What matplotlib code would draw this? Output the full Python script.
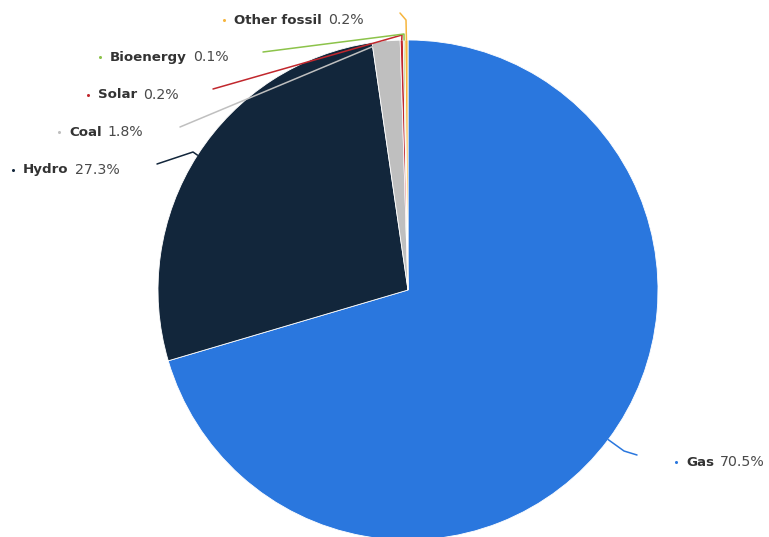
import matplotlib.pyplot as plt
import numpy as np

# share of electricity generation by source (%)
sources = ["Gas", "Hydro", "Coal", "Solar", "Bioenergy", "Other fossil"]
shares = [70.5, 27.3, 1.8, 0.2, 0.1, 0.2]
colors = ["#2a77de", "#12263b", "#bfbfbf", "#c1272d", "#8cc34a", "#f6b53d"]

W, H = 769, 537
cx, cy, r = 408, H - 290, 250

fig = plt.figure(figsize=(W / 100, H / 100), dpi=100)
ax = fig.add_axes([0, 0, 1, 1])

wedges, _ = ax.pie(shares, colors=colors, startangle=90, counterclock=False,
                   center=(cx, cy), radius=r,
                   wedgeprops=dict(linewidth=0.6, edgecolor="white"))
ax.set_xlim(0, W)
ax.set_ylim(0, H)
ax.set_aspect("equal")
ax.axis("off")


def edge_point(w, rad=r):
    ang = np.deg2rad((w.theta1 + w.theta2) / 2)
    return cx + rad * np.cos(ang), cy + rad * np.sin(ang)


# label anchor (bullet position) and the elbow of each connector, in pixels from the top
label_pos = {
    "Gas": (676, 462),
    "Hydro": (13, 170),
    "Coal": (59, 132),
    "Solar": (88, 95),
    "Bioenergy": (100, 57),
    "Other fossil": (224, 20),
}
line_start = {
    "Gas": [(637, 455), (624, 451)],
    "Hydro": [(157, 164), (193, 152)],
    "Coal": [(180, 127)],
    "Solar": [(213, 89), (402, 35)],
    "Bioenergy": [(263, 52), (404, 34)],
    "Other fossil": [(400, 13), (406, 20)],
}

renderer = fig.canvas.get_renderer()
for w, name, val, col in zip(wedges, sources, shares, colors):
    ex, ey = edge_point(w)
    pts = [(x, H - y) for x, y in line_start[name]] + [(ex, ey)]
    xs, ys = zip(*pts)
    ax.plot(xs, ys, color=col, lw=1.1, solid_capstyle="round")

    bx, by = label_pos[name]
    ax.plot(bx, H - by, "o", ms=2.2, color=col, mec="none")
    t = ax.text(bx + 10, H - by, name, fontsize=9.6, fontweight="bold",
                color="#333333", va="center", ha="left")
    bb = t.get_window_extent(renderer)
    ax.text(bb.x1 + 6, H - by, f"{val}%", fontsize=10.2, color="#4a4a4a",
            va="center", ha="left")

fig.savefig("out.png", dpi=100)
